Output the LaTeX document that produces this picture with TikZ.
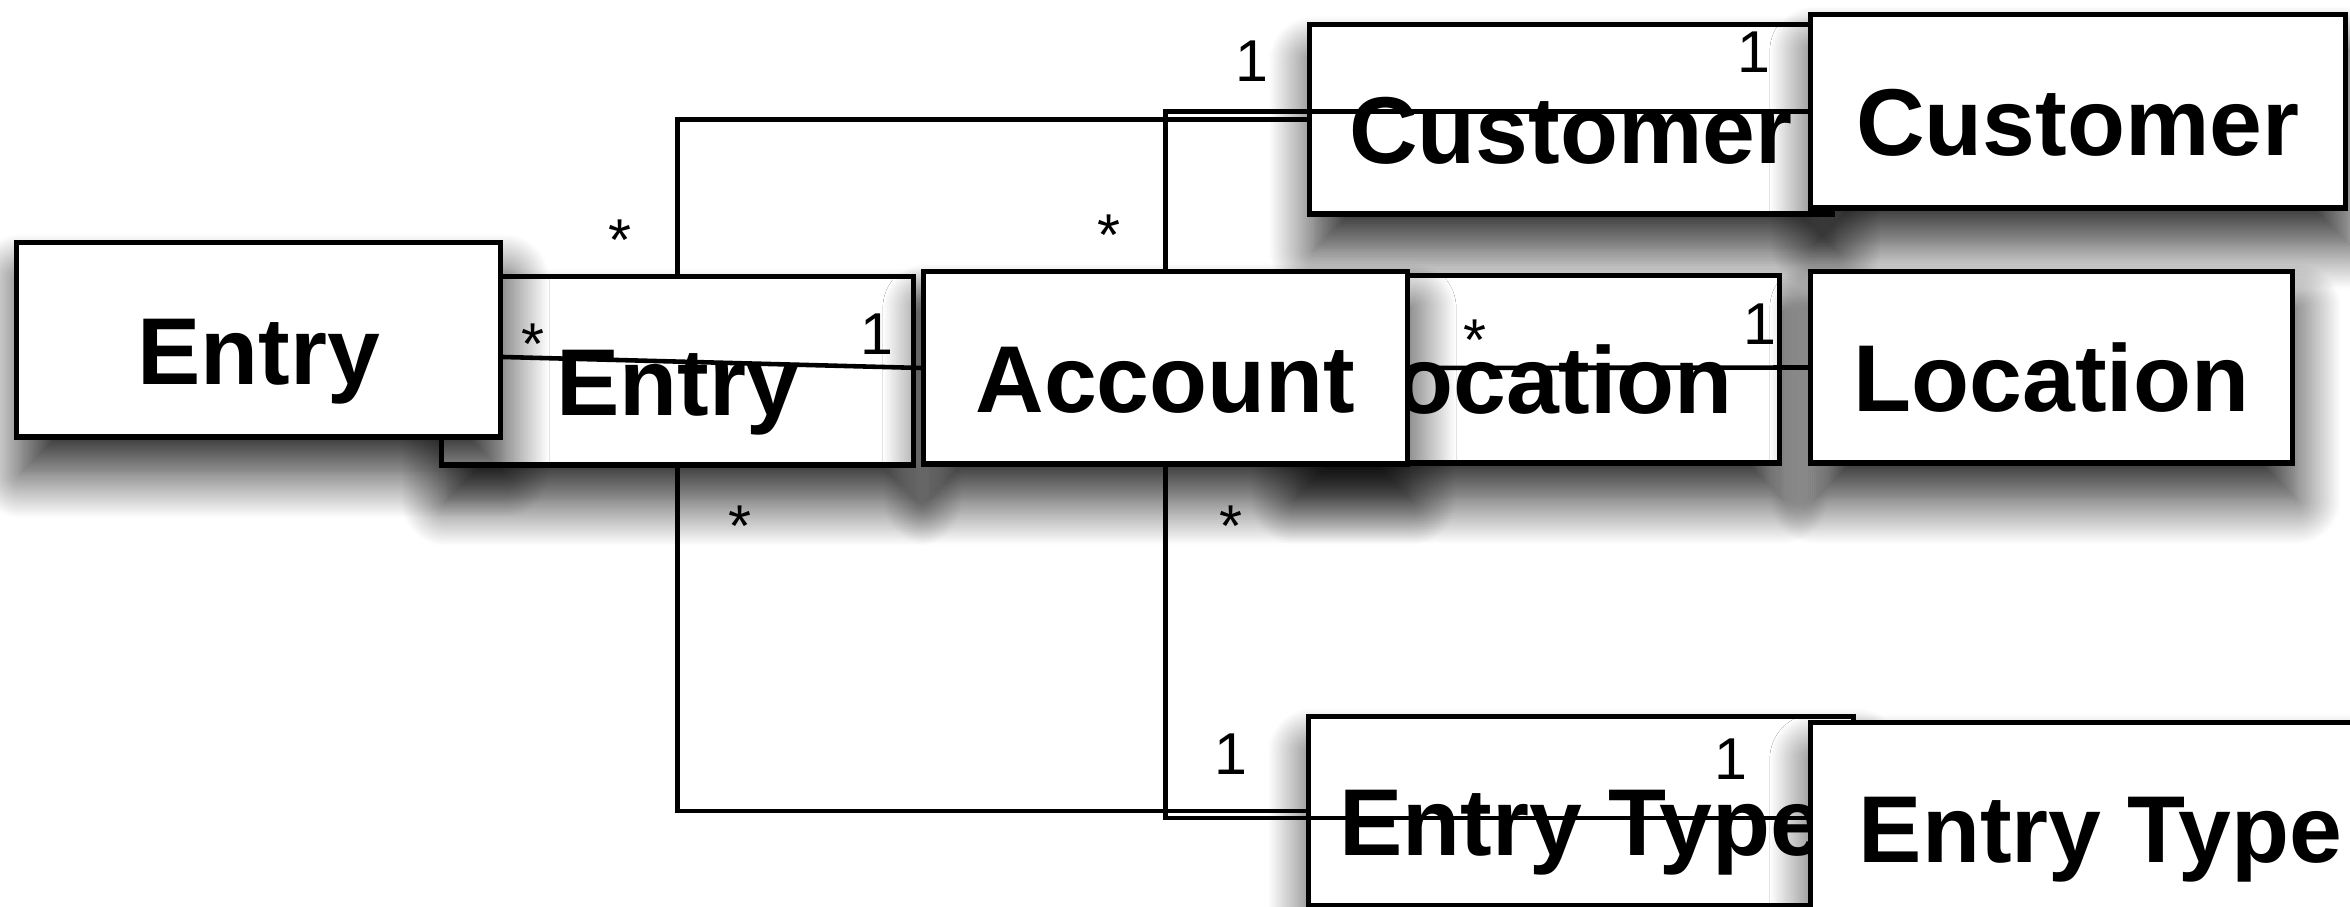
\documentclass[tikz,border=0pt]{standalone}
\usepackage{fontspec}
\setmainfont{Liberation Sans}
\usetikzlibrary{calc,shadows.blur}

\tikzset{
  cls/.style={draw=black, line width=1.45pt, fill=white,
    font=\bfseries\fontsize{27pt}{32pt}\selectfont,
    text height=0.88cm, text depth=0cm, inner sep=0pt,
    blur shadow={shadow xshift=0.04cm, shadow yshift=-0.36cm,
      shadow blur radius=0.45cm, shadow blur steps=24, shadow opacity=85}},
  mult/.style={font=\fontsize{16.8pt}{20pt}\selectfont, anchor=base, inner sep=0pt},
  assoc/.style={draw=black, line width=1.3pt}
}

\begin{document}
\begin{tikzpicture}[x=0.01cm, y=-0.01cm]
    \useasboundingbox (0,0) rectangle (2350,907);

    % classes, old place
    \node[cls, minimum width=4.71cm, minimum height=1.88cm] (entryB) at (677.5,371) {Entry};
    \node[cls, minimum width=5.22cm, minimum height=1.89cm] (customerB) at (1571,119.5) {Customer};
    \node[cls, minimum width=4.88cm, minimum height=1.87cm] (locationB) at (1535,369.5) {Location};
    \node[cls, minimum width=5.44cm, minimum height=1.88cm] (typeB) at (1581,811) {Entry Type};

    % classes, new place
    \node[cls, minimum width=4.83cm, minimum height=1.94cm] (entryF) at (258.5,340) {Entry};
    \node[cls, minimum width=4.83cm, minimum height=1.92cm] (account) at (1165.5,368) {Account};
    \node[cls, minimum width=5.34cm, minimum height=1.93cm] (customerF) at (2078,111.5) {Customer};
    \node[cls, minimum width=4.81cm, minimum height=1.91cm] (locationF) at (2051.5,367.5) {Location};
    \node[cls, minimum width=5.79cm, minimum height=1.90cm] (typeF) at (2100.5,818) {Entry Type};

    % associations
    \coordinate (entryOut) at ($(entryF.east)+(0,17)$);
    \draw[assoc] (entryB.north) |- (customerB.west);
    \draw[assoc] (account.north) |- (customerF.west);
    \draw[assoc] (entryOut) -- (account.west);
    \draw[assoc] (account.east) -- (locationF.west);
    \draw[assoc] (entryB.south) |- (typeB.west);
    \draw[assoc] (account.south) |- (typeF.west);

    % multiplicities
    \node[mult] (m1) at (620,261) {*};
    \node[mult] (m2) at (1109,256) {*};
    \node[mult] (m3) at (1252,82) {1};
    \node[mult] (m4) at (1754,73) {1};
    \node[mult] (m5) at (533,365) {*};
    \node[mult] (m6) at (877,355) {1};
    \node[mult] (m7) at (1475,361) {*};
    \node[mult] (m8) at (1760,345) {1};
    \node[mult] (m9) at (740,547) {*};
    \node[mult] (m10) at (1231,547) {*};
    \node[mult] (m11) at (1231,775) {1};
    \node[mult] (m12) at (1731,780) {1};
\end{tikzpicture}
\end{document}
